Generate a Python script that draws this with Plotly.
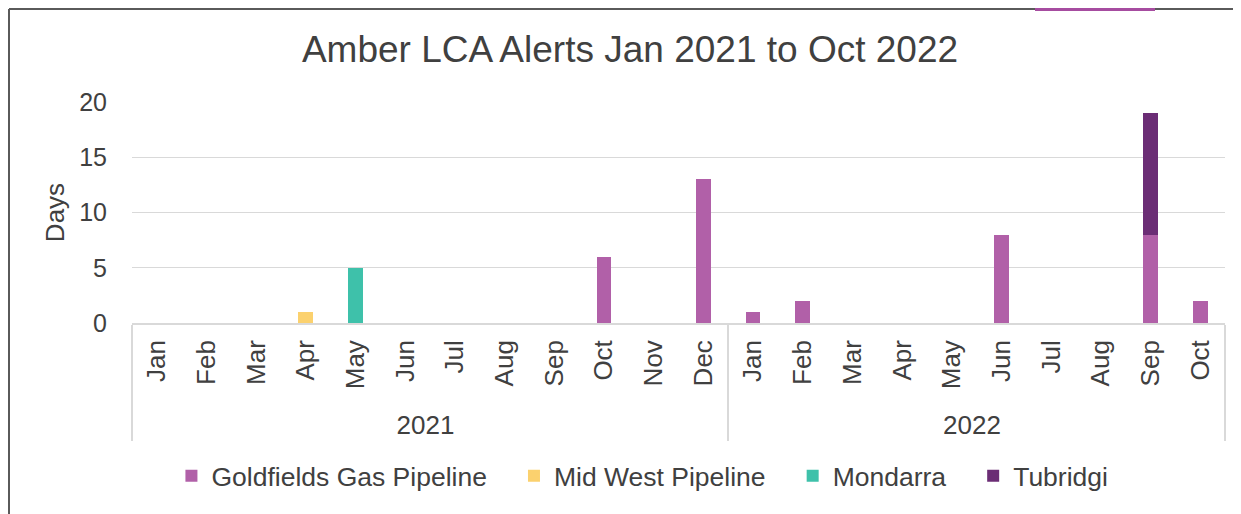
import plotly.graph_objects as go

years = ["2021"] * 12 + ["2022"] * 10
months = ["Jan", "Feb", "Mar", "Apr", "May", "Jun", "Jul", "Aug", "Sep", "Oct", "Nov", "Dec",
          "Jan", "Feb", "Mar", "Apr", "May", "Jun", "Jul", "Aug", "Sep", "Oct"]

goldfields = [0, 0, 0, 0, 0, 0, 0, 0, 0, 6, 0, 13, 1, 2, 0, 0, 0, 8, 0, 0, 8, 2]
mid_west = [0, 0, 0, 1, 0, 0, 0, 0, 0, 0, 0, 0, 0, 0, 0, 0, 0, 0, 0, 0, 0, 0]
mondarra = [0, 0, 0, 0, 5, 0, 0, 0, 0, 0, 0, 0, 0, 0, 0, 0, 0, 0, 0, 0, 0, 0]
tubridgi = [0, 0, 0, 0, 0, 0, 0, 0, 0, 0, 0, 0, 0, 0, 0, 0, 0, 0, 0, 0, 11, 0]

series = [
    ("Goldfields Gas Pipeline", goldfields, "#B160A8"),
    ("Mid West Pipeline", mid_west, "#FBD16E"),
    ("Mondarra", mondarra, "#3EC1AA"),
    ("Tubridgi", tubridgi, "#6B2D75"),
]

TXT = "#404040"
FONT = "Liberation Sans, Arial, sans-serif"
PAD = "\u00a0\u00a0\u00a0"  # a bit more room between legend entries

# page body has an 8px margin, so the figure is 8px smaller than the window
W, H = 1233, 506
L, R, T, B = 124, 16, 94, 191
pw, ph = W - L - R, H - T - B

fig = go.Figure()
for idx, (name, vals, col) in enumerate(series):
    label = name + (PAD if idx < len(series) - 1 else "")
    fig.add_trace(go.Bar(
        x=[years, months], y=vals, name=label,
        marker=dict(color=col, line=dict(width=0)),
    ))

fig.update_layout(
    width=W, height=H,
    barmode="stack", bargap=0.7,
    paper_bgcolor="white", plot_bgcolor="white",
    margin=dict(l=L, r=R, t=T, b=B, autoexpand=False),
    font=dict(family=FONT, color=TXT, size=25),
    title=dict(text="Amber LCA Alerts Jan 2021 to Oct 2022",
               x=622 / W, xref="container", xanchor="center",
               y=1 - 41.5 / H, yref="container", yanchor="middle",
               font=dict(size=37, color=TXT, family=FONT)),
    legend=dict(orientation="h", x=0.467, xanchor="center", y=-0.692, yanchor="middle",
                font=dict(size=26.5, color=TXT), itemwidth=30,
                traceorder="normal"),
    showlegend=True,
    yaxis=dict(range=[0, 20], dtick=5, showgrid=True, gridcolor="#D9D9D9", gridwidth=1,
               zeroline=False, showline=False, ticks="", ticklabelstandoff=24,
               tickfont=dict(size=25, color=TXT),
               title=dict(text="Days", standoff=7, font=dict(size=26, color=TXT))),
    xaxis=dict(type="multicategory", tickangle=-90, showline=True, linecolor="#D9D9D9",
               linewidth=1.5, showgrid=False, ticks="", showdividers=True,
               dividercolor="#D9D9D9", dividerwidth=1.5, ticklabelstandoff=5,
               tickfont=dict(size=26, color=TXT)),
    shapes=[
        dict(type="line", xref="paper", yref="paper",
             x0=(1 - L) / pw, x1=(W - L) / pw, y0=(ph + T - 1) / ph, y1=(ph + T - 1) / ph,
             line=dict(color="#5A5A5A", width=2)),
        dict(type="line", xref="paper", yref="paper",
             x0=(1 - L) / pw, x1=(1 - L) / pw, y0=(ph + T - 1) / ph, y1=-B / ph,
             line=dict(color="#5A5A5A", width=2)),
        dict(type="rect", xref="paper", yref="paper",
             x0=(1027 - L) / pw, x1=(1147 - L) / pw, y0=(ph + T) / ph, y1=(ph + T - 3) / ph,
             fillcolor="#A64CA0", line=dict(width=0)),
    ],
)

fig.write_html("out.html")
